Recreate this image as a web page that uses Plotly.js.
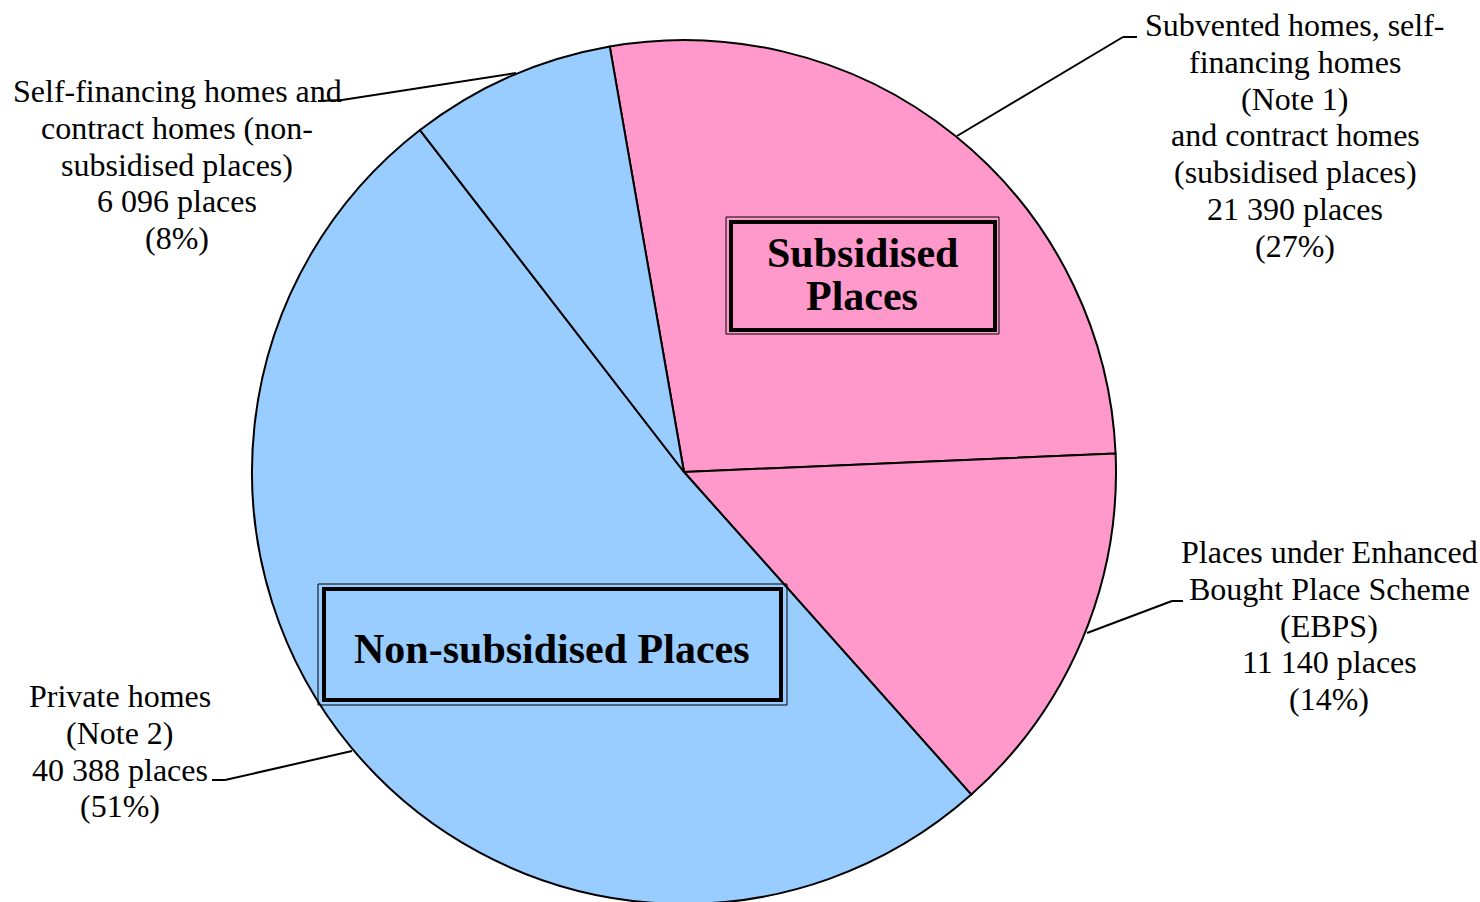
<!DOCTYPE html>
<html><head><meta charset="utf-8">
<script src="https://cdn.plot.ly/plotly-3.0.1.min.js"></script>
<style>html,body{margin:0;padding:0;overflow:hidden;background:#fff}#chart{width:1480px;height:910px}</style>
</head><body><div id="chart"></div>
<script>
// ---- data ----
const categories = [
  "Subvented homes, self-financing homes (Note 1) and contract homes (subsidised places)",
  "Places under Enhanced Bought Place Scheme (EBPS)",
  "Private homes (Note 2)",
  "Self-financing homes and contract homes (non-subsidised places)"
];
const places = [21390, 11140, 40388, 6096];
const labelNameLines = [
  ["Subvented homes, self-", "financing homes", "(Note 1)", "and contract homes", "(subsidised places)"],
  ["Places under Enhanced", "Bought Place Scheme", "(EBPS)"],
  ["Private homes", "(Note 2)"],
  ["Self-financing homes and", "contract homes (non-", "subsidised places)"]
];
const groupLabels = [["Subsidised", "Places"], ["Non-subsidised Places"]];

// ---- layout helpers ----
const W = 1480, H = 910;
const PX = x => x / W, PY = y => 1 - y / H;
const PINK = "#FF99CC", BLUE = "#99CCFF";
const SERIF = "Liberation Serif, Times New Roman, serif";

const total = places.reduce((a, b) => a + b, 0);
const fmt = n => String(n).replace(/\B(?=(\d{3})+(?!\d))/g, " ");

const labelPos = [
  {cx: 1295, y0: 25},
  {cx: 1329, y0: 552},
  {cx: 120, y0: 696},
  {cx: 177, y0: 91}
];
const STEP = 36.8;

const annotations = [];
function addLines(lines, cx, y0, step, font) {
  lines.forEach((t, i) => annotations.push({
    x: PX(cx), y: PY(y0 + i * step), xref: "paper", yref: "paper",
    text: t, showarrow: false, xanchor: "center", yanchor: "middle", font: font
  }));
}
const labelFont = {family: SERIF, size: 32, color: "#000"};
categories.forEach((c, i) => {
  const lines = labelNameLines[i].concat([
    fmt(places[i]) + " places",
    "(" + Math.round(places[i] / total * 100) + "%)"
  ]);
  addLines(lines, labelPos[i].cx, labelPos[i].y0, STEP, labelFont);
});
const boldFont = {family: SERIF, size: 42, color: "#000", weight: "bold"};
addLines(groupLabels[0].map(t => "<b>" + t + "</b>"), 862, 253, 43, boldFont);
addLines(groupLabels[1].map(t => "<b>" + t + "</b>"), 552, 649, 43, boldFont);

// leader lines
const leaders = [
  [[957, 136], [1123, 37], [1137, 37]],
  [[1087, 633], [1172, 601], [1183, 601]],
  [[352, 751], [225, 780], [212, 780]],
  [[516, 73], [342, 100], [318, 101]]
];
const shapes = [];
leaders.forEach(pts => {
  for (let i = 0; i < pts.length - 1; i++) {
    shapes.push({type: "line", xref: "paper", yref: "paper",
      x0: PX(pts[i][0]), y0: PY(pts[i][1]), x1: PX(pts[i + 1][0]), y1: PY(pts[i + 1][1]),
      line: {color: "#000", width: 2}});
  }
});
function rect(x0, y0, x1, y1, w) {
  shapes.push({type: "rect", xref: "paper", yref: "paper",
    x0: PX(x0), y0: PY(y0), x1: PX(x1), y1: PY(y1),
    line: {color: "#000", width: w}, fillcolor: "rgba(0,0,0,0)"});
}
rect(726, 217, 999, 334, 1);
rect(731, 222, 995, 330, 4);
rect(318, 584, 787, 705, 1);
rect(324, 589, 781, 700, 4);

const trace = {
  type: "pie",
  labels: categories,
  values: places,
  sort: false,
  direction: "clockwise",
  rotation: -9.9,
  marker: {colors: [PINK, PINK, BLUE, BLUE], line: {color: "#000", width: 2}},
  textinfo: "none",
  hoverinfo: "none",
  showlegend: false,
  domain: {x: [PX(252), PX(1116)], y: [PY(904), PY(40)]}
};

Plotly.newPlot("chart", [trace], {
  width: W, height: H,
  margin: {l: 0, r: 0, t: 0, b: 0},
  paper_bgcolor: "#fff",
  showlegend: false,
  annotations: annotations,
  shapes: shapes
}, {displayModeBar: false, staticPlot: true});
</script>
</body></html>
